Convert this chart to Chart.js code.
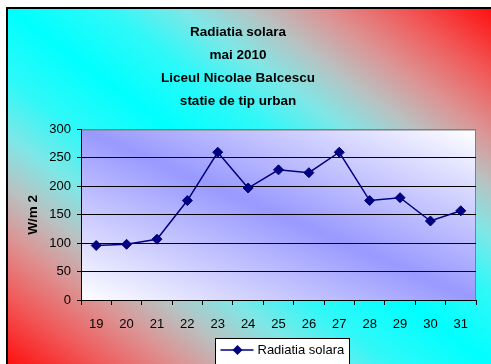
<!DOCTYPE html>
<html>
<head>
<meta charset="utf-8">
<title>Radiatia solara</title>
<script src="https://cdn.jsdelivr.net/npm/chart.js"></script>
<style>
    html, body { margin: 0; padding: 0; background: #fff; }
    #wrap { width: 491px; height: 364px; }
</style>
</head>
<body>
<div id="wrap"><canvas id="solarChart" width="491" height="364"></canvas></div>
<script>
const days = ['19', '20', '21', '22', '23', '24', '25', '26', '27', '28', '29', '30', '31'];
const radiatie = [96, 98, 107, 175, 260, 197, 229, 224, 260, 175, 180, 139, 157];
const titleLines = ['Radiatia solara', 'mai 2010', 'Liceul Nicolae Balcescu', 'statie de tip urban'];
const serieName = 'Radiatia solara';
const yTitle = 'W/m 2';

Chart.defaults.font.family = "'Liberation Sans', Arial, sans-serif";
Chart.defaults.color = '#000';

// red corners, cyan along the diagonal
const outerStops = [
    [0, '#ff1010'], [0.1, '#f05c5c'], [0.18, '#dc9494'], [0.25, '#b8c2c2'],
    [0.32, '#80e6e6'], [0.4, '#30f8f8'], [0.5, '#00ffff'],
    [0.6, '#30f8f8'], [0.68, '#80e6e6'], [0.75, '#b8c2c2'],
    [0.82, '#dc9494'], [0.9, '#f05c5c'], [1, '#ff1010']
];
const plotStops = [[0, '#ffffff'], [0.5, '#9999ff'], [1, '#ffffff']];

function diagonalFill(ctx, x, y, w, h, stops) {
    ctx.save();
    ctx.translate(x, y);
    ctx.scale(w, h);
    const g = ctx.createLinearGradient(0, 1, 1, 0);
    stops.forEach(s => g.addColorStop(s[0], s[1]));
    ctx.fillStyle = g;
    ctx.fillRect(0, 0, 1, 1);
    ctx.restore();
}

const backgrounds = {
    id: 'backgrounds',
    beforeDraw(chart) {
        const ctx = chart.ctx;
        const a = chart.chartArea;
        ctx.save();
        ctx.fillStyle = '#fff';
        ctx.fillRect(0, 0, chart.width, chart.height);
        diagonalFill(ctx, 7, 8, chart.width - 7, chart.height - 8, outerStops);
        ctx.fillStyle = '#000';
        ctx.fillRect(6, 7, 2, chart.height - 7);
        ctx.fillRect(6, 7, chart.width - 6, 2);
        diagonalFill(ctx, a.left, a.top, a.right - a.left, a.bottom - a.top, plotStops);
        ctx.strokeStyle = '#808080';
        ctx.lineWidth = 1;
        ctx.strokeRect(a.left + 0.5, a.top + 0.5, a.right - a.left - 1, a.bottom - a.top);
        ctx.restore();
    },
    afterDraw(chart) {
        const ctx = chart.ctx;
        const a = chart.chartArea;
        const bx = a.left + 134.5;
        const by = 338.5;
        const cy = 350;
        ctx.save();
        ctx.fillStyle = '#fff';
        ctx.strokeStyle = '#000';
        ctx.lineWidth = 1;
        ctx.fillRect(bx, by, 134, 40);
        ctx.strokeRect(bx, by, 134, 40);
        ctx.strokeStyle = '#000080';
        ctx.lineWidth = 1.5;
        ctx.beginPath();
        ctx.moveTo(bx + 5, cy);
        ctx.lineTo(bx + 38, cy);
        ctx.stroke();
        const mx = bx + 22;
        ctx.fillStyle = '#000080';
        ctx.beginPath();
        ctx.moveTo(mx, cy - 5);
        ctx.lineTo(mx + 5, cy);
        ctx.lineTo(mx, cy + 5);
        ctx.lineTo(mx - 5, cy);
        ctx.closePath();
        ctx.fill();
        ctx.fillStyle = '#000';
        ctx.font = "13px 'Liberation Sans', Arial, sans-serif";
        ctx.textBaseline = 'middle';
        ctx.fillText(serieName, bx + 42, cy);
        ctx.restore();
    }
};

const ctx = document.getElementById('solarChart').getContext('2d');
const solarChart = new Chart(ctx, {
    type: 'line',
    data: {
        labels: days,
        datasets: [{
            label: serieName,
            data: radiatie,
            borderColor: '#000080',
            borderWidth: 1.5,
            backgroundColor: '#000080',
            pointStyle: 'rectRot',
            pointRadius: 5,
            pointBorderWidth: 1,
            pointBackgroundColor: '#000080',
            pointBorderColor: '#000080',
            tension: 0
        }]
    },
    options: {
        responsive: false,
        animation: false,
        layout: { padding: { left: 0, right: 15, top: 0, bottom: 0 } },
        plugins: {
            legend: { display: false },
            tooltip: { enabled: false },
            title: {
                display: true,
                text: titleLines,
                color: '#000',
                font: { size: 13.5, weight: 'bold', lineHeight: '23px' },
                padding: { top: 20.5, bottom: 17 }
            }
        },
        scales: {
            x: {
                offset: true,
                border: { color: '#000', width: 1 },
                grid: { offset: true, drawOnChartArea: false, tickLength: 5, tickColor: '#000' },
                ticks: { font: { size: 13 }, color: '#000', padding: 12, maxRotation: 0, autoSkip: false },
                afterFit(scale) { scale.height = 64; }
            },
            y: {
                min: 0,
                max: 300,
                border: { color: '#000', width: 1 },
                grid: {
                    color: (c) => c.tick && c.tick.value === 300 ? '#808080' : '#000',
                    tickColor: '#000',
                    tickLength: 4
                },
                ticks: { stepSize: 50, font: { size: 13 }, color: '#000', padding: 6 },
                title: {
                    display: true,
                    text: yTitle,
                    color: '#000',
                    font: { size: 13.5, weight: 'bold' },
                    padding: { top: 25, bottom: 0 }
                },
                afterFit(scale) { scale.width = 81; }
            }
        }
    },
    plugins: [backgrounds]
});
</script>
</body>
</html>
